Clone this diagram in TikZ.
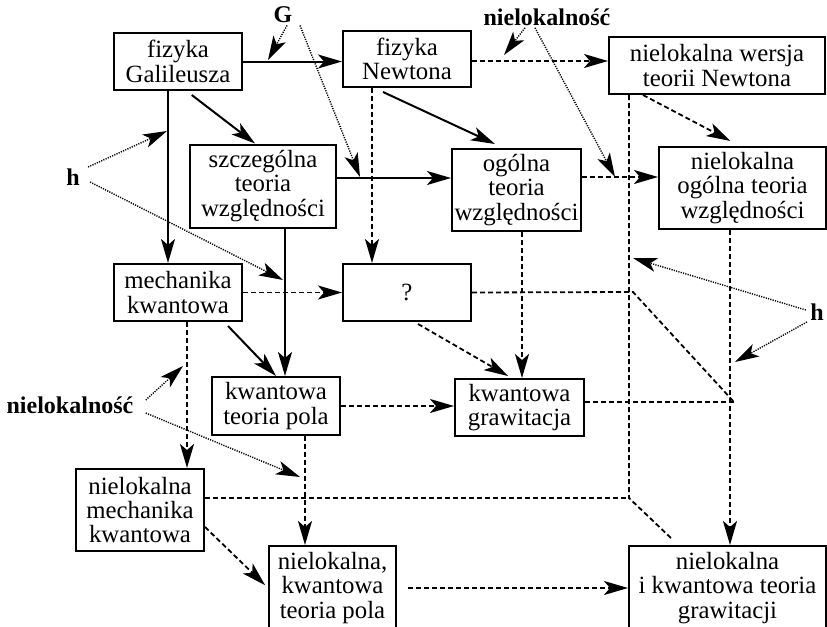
\documentclass[tikz,border=0pt]{standalone}
\usepackage{fontspec}
\setmainfont{Liberation Serif}
\usetikzlibrary{arrows.meta}

\begin{document}
\begin{tikzpicture}[x=0.5pt, y=-0.5pt,
        box/.style={draw, line width=1pt, align=center, inner sep=0pt, font=\fontsize{12.4}{12.2}\selectfont},
        lbl/.style={inner sep=1pt, font=\fontsize{12}{12}\selectfont\bfseries},
        headtip/.style={-{Stealth[length=12pt, width=7pt, inset=3pt]}},
        solidarrow/.style={headtip, line width=1pt},
        dasharrow/.style={headtip, line width=0.9pt, dash pattern=on 2.5pt off 1.5pt},
        dashedline/.style={line width=0.9pt, dash pattern=on 2.5pt off 1.5pt},
        dotarrow/.style={headtip, line width=0.7pt, dash pattern=on 0.6pt off 0.6pt}]
        \useasboundingbox (0,0) rectangle (827,627);
        \clip (0,0) rectangle (827,627);

        % boxes
        \node [box, minimum width=64pt, minimum height=28.5pt] (galileo) at (178,61.5) {fizyka\\Galileusza};
        \node [box, minimum width=64pt, minimum height=28pt] (newton) at (407,59) {fizyka\\Newtona};
        \node [box, minimum width=108pt, minimum height=28.5pt] (nlnewton) at (717,65.5) {nielokalna wersja\\teorii Newtona};
        \node [box, minimum width=73pt, minimum height=41.5pt] (str) at (263,186) {szczególna\\teoria\\względności};
        \node [box, minimum width=64.5pt, minimum height=41pt] (gtr) at (516.5,190) {ogólna\\teoria\\względności};
        \node [box, minimum width=83.5pt, minimum height=41pt] (nlgtr) at (742.5,188) {nielokalna\\ogólna teoria\\względności};
        \node [box, minimum width=64pt, minimum height=28.5pt] (qm) at (178,292.5) {mechanika\\kwantowa};
        \node [box, minimum width=64pt, minimum height=28.5pt] (unknown) at (407,292.5) {?};
        \node [box, minimum width=64pt, minimum height=29pt] (qft) at (276,406) {kwantowa\\teoria pola};
        \node [box, minimum width=64.5pt, minimum height=28.5pt] (qg) at (519.5,407.5) {kwantowa\\grawitacja};
        \node [box, minimum width=64pt, minimum height=41pt] (nlqm) at (140,510) {nielokalna\\mechanika\\kwantowa};
        \node [box, minimum width=63.5pt, minimum height=42pt] (nlqft) at (332.5,588) {nielokalna,\\kwantowa\\teoria pola};
        \node [box, minimum width=98.5pt, minimum height=42pt] (nlqg) at (727.5,588) {nielokalna\\i kwantowa teoria\\grawitacji};

        % labels
        \node [lbl] (g) at (283,15) {G};
        \node [lbl] (nltop) at (547,17) {nielokalność};
        \node [lbl] (hleft) at (73,177) {h};
        \node [lbl] (hright) at (817,312) {h};
        \node [lbl] (nlleft) at (70,405) {nielokalność};

        % free ends
        \coordinate (gnewton) at (268,60);
        \coordinate (gstr) at (360,177);
        \coordinate (nlnewt) at (504,55);
        \coordinate (nlgen) at (615,177);
        \coordinate (hgal) at (167,131);
        \coordinate (hstr) at (283,280);
        \coordinate (hbend) at (633,258);
        \coordinate (hnlgtr) at (735,362);
        \coordinate (nlmech) at (183,366);
        \coordinate (nlfield) at (300,477);
        \coordinate (corner) at (629,498);
        \coordinate (stop) at (673,540);
        \coordinate (bend) at (633,292);
        \coordinate (meet) at (734,402);

        % solid arrows
        \draw [solidarrow] (galileo.east) -- (galileo.east -| newton.west);
        \draw [solidarrow] ([yshift=-2pt]galileo.-65) -- ([xshift=-4pt]str.north);
        \draw [solidarrow] ([xshift=-5pt]galileo.south) -- ([xshift=-5pt]qm.north);
        \draw [solidarrow] ([yshift=4pt]str.east) -- ([yshift=4pt]str.east -| gtr.west);
        \draw [solidarrow] ([xshift=11pt]str.south) -- ([xshift=11pt]str.south |- qft.north);
        \draw [solidarrow] ([xshift=-12pt,yshift=-2pt]newton.south) -- ([xshift=-10.75pt,yshift=2pt]gtr.north);
        \draw [solidarrow] ([xshift=25pt,yshift=-2pt]qm.south) -- (qft.north);

        % dashed arrows
        \draw [dasharrow] ([yshift=-1pt]newton.east) -- ([yshift=-1pt]newton.east -| nlnewton.west);
        \draw [dasharrow] ([xshift=-17.5pt]newton.south) -- ([xshift=-17.5pt]newton.south |- unknown.north);
        \draw [dasharrow] ([yshift=6.5pt]gtr.east) -- ([yshift=6.5pt]gtr.east -| nlgtr.west);
        \draw [dasharrow] ([xshift=-37pt]nlnewton.south) -- ([xshift=-6pt,yshift=2.5pt]nlgtr.north);
        \draw [dasharrow] (qm.east) -- (unknown.west);
        \draw [dasharrow] ([xshift=2.75pt]gtr.south) -- ([xshift=2.75pt]gtr.south |- qg.north);
        \draw [dasharrow] ([xshift=5.5pt,yshift=-1pt]unknown.south) -- ([xshift=-5.75pt,yshift=1pt]qg.north);
        \draw [dasharrow] ([xshift=-6.25pt]nlgtr.south) -- ([xshift=-6.25pt]nlgtr.south |- nlqg.north);
        \draw [dasharrow] ([xshift=4.5pt]qm.south) -- ([xshift=4.5pt]qm.south |- nlqm.north);
        \draw [dasharrow] (qft.east) -- (qft.east -| qg.west);
        \draw [dasharrow] ([xshift=14.5pt]qft.south) -- ([xshift=14.5pt]qft.south |- nlqft.north);
        \draw [dasharrow, shorten >=2pt] ([yshift=-8.5pt]nlqm.east) -- (nlqft.west);
        \draw [dasharrow, shorten <=5.5pt] (nlqft.east) -- (nlqft.east -| nlqg.west);

        % dashed lines
        \draw [dashedline] ([xshift=-44pt]nlnewton.south) -- (corner) -- (stop);
        \draw [dashedline] (nlqm.east |- corner) -- (corner);
        \draw [dashedline] (unknown.east) -- (bend) -- (meet);
        \draw [dashedline] (qg.east |- meet) -- (meet);

        % dotted arrows
        \draw [dotarrow] ([xshift=2pt]g.south) -- (gnewton);
        \draw [dotarrow] ([xshift=8.5pt]g.south) -- (gstr);
        \draw [dotarrow] ([xshift=-11pt]nltop.south) -- (nlnewt);
        \draw [dotarrow] ([xshift=-6pt]nltop.south) -- (nlgen);
        \draw [dotarrow] ([xshift=3pt,yshift=5pt]hleft.east) -- (hgal);
        \draw [dotarrow] ([xshift=4pt,yshift=-2.5pt]hleft.east) -- (hstr);
        \draw [dotarrow] ([xshift=-1pt,yshift=1pt]hright.west) -- (hbend);
        \draw [dotarrow] ([xshift=-0.5pt,yshift=-5pt]hright.west) -- (hnlgtr);
        \draw [dotarrow] ([xshift=5pt,yshift=2.5pt]nlleft.east) -- (nlmech);
        \draw [dotarrow] ([xshift=5pt,yshift=-4pt]nlleft.east) -- (nlfield);
\end{tikzpicture}
\end{document}
